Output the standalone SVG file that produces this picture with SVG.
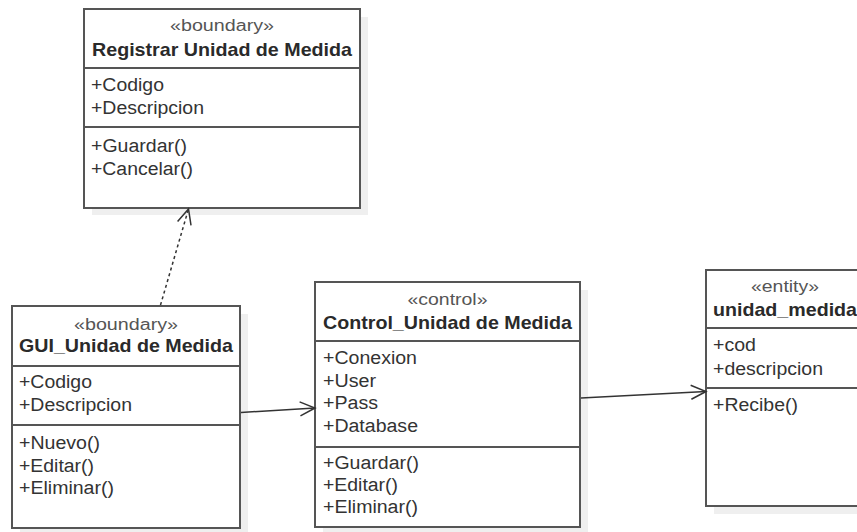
<svg xmlns="http://www.w3.org/2000/svg" width="857" height="532" viewBox="0 0 857 532">
<defs>
<style>
.shadow{fill:#efefef;stroke:none}
.box{fill:#ffffff;stroke:#555555;stroke-width:2}
.sep{stroke:#555555;stroke-width:2}
.st{font-family:"Liberation Sans",Arial,sans-serif;font-size:16px;fill:#555555;text-anchor:middle}
.nm{font-family:"Liberation Sans",Arial,sans-serif;font-size:19px;font-weight:bold;fill:#2a2a2a;text-anchor:middle}
.at{font-family:"Liberation Sans",Arial,sans-serif;font-size:18px;fill:#333333}
.conn{fill:none;stroke:#333333;stroke-width:1.5}
.dash{stroke-dasharray:3 3}
</style>
<marker id="open" markerUnits="userSpaceOnUse" markerWidth="20" markerHeight="20" refX="16" refY="8" orient="auto">
<path d="M1,1 L16,8 L1,15" fill="none" stroke="#333333" stroke-width="1.5"/>
</marker>
</defs>
<rect width="857" height="532" fill="#ffffff"/>

<g id="registrar">
<rect class="shadow" x="92" y="17" width="276" height="198"/>
<rect class="box" x="84" y="9" width="276" height="199"/>
<line class="sep" x1="84" y1="68" x2="360" y2="68"/>
<line class="sep" x1="84" y1="127" x2="360" y2="127"/>
<text class="st" x="222" y="31" textLength="104" lengthAdjust="spacingAndGlyphs">«boundary»</text>
<text class="nm" x="222" y="56" textLength="260" lengthAdjust="spacingAndGlyphs">Registrar Unidad de Medida</text>
<text class="at" x="91" y="91" textLength="73" lengthAdjust="spacingAndGlyphs">+Codigo</text>
<text class="at" x="91" y="114" textLength="113" lengthAdjust="spacingAndGlyphs">+Descripcion</text>
<text class="at" x="91" y="152" textLength="96" lengthAdjust="spacingAndGlyphs">+Guardar()</text>
<text class="at" x="91" y="175" textLength="102" lengthAdjust="spacingAndGlyphs">+Cancelar()</text>
</g>

<g id="gui">
<rect class="shadow" x="20" y="314" width="228" height="222"/>
<rect class="box" x="12" y="306" width="228" height="222"/>
<line class="sep" x1="12" y1="366" x2="240" y2="366"/>
<line class="sep" x1="12" y1="425" x2="240" y2="425"/>
<text class="st" x="126" y="330" textLength="104" lengthAdjust="spacingAndGlyphs">«boundary»</text>
<text class="nm" x="126" y="352" textLength="214" lengthAdjust="spacingAndGlyphs">GUI_Unidad de Medida</text>
<text class="at" x="19" y="388" textLength="73" lengthAdjust="spacingAndGlyphs">+Codigo</text>
<text class="at" x="19" y="411" textLength="113" lengthAdjust="spacingAndGlyphs">+Descripcion</text>
<text class="at" x="19" y="449" textLength="81" lengthAdjust="spacingAndGlyphs">+Nuevo()</text>
<text class="at" x="19" y="472" textLength="75" lengthAdjust="spacingAndGlyphs">+Editar()</text>
<text class="at" x="19" y="494" textLength="95" lengthAdjust="spacingAndGlyphs">+Eliminar()</text>
</g>

<g id="control">
<rect class="shadow" x="323" y="290" width="265" height="245"/>
<rect class="box" x="315" y="282" width="265" height="245"/>
<line class="sep" x1="315" y1="341" x2="580" y2="341"/>
<line class="sep" x1="315" y1="447" x2="580" y2="447"/>
<text class="st" x="447.5" y="305" textLength="80" lengthAdjust="spacingAndGlyphs">«control»</text>
<text class="nm" x="447.5" y="329" textLength="249" lengthAdjust="spacingAndGlyphs">Control_Unidad de Medida</text>
<text class="at" x="323" y="364" textLength="94" lengthAdjust="spacingAndGlyphs">+Conexion</text>
<text class="at" x="323" y="387" textLength="53" lengthAdjust="spacingAndGlyphs">+User</text>
<text class="at" x="323" y="409" textLength="55" lengthAdjust="spacingAndGlyphs">+Pass</text>
<text class="at" x="323" y="432" textLength="95" lengthAdjust="spacingAndGlyphs">+Database</text>
<text class="at" x="323" y="469" textLength="96" lengthAdjust="spacingAndGlyphs">+Guardar()</text>
<text class="at" x="323" y="491" textLength="75" lengthAdjust="spacingAndGlyphs">+Editar()</text>
<text class="at" x="323" y="513" textLength="95" lengthAdjust="spacingAndGlyphs">+Eliminar()</text>
</g>

<g id="entity">
<rect class="shadow" x="714" y="278" width="160" height="236"/>
<rect class="box" x="706" y="270" width="160" height="236"/>
<line class="sep" x1="706" y1="328" x2="866" y2="328"/>
<line class="sep" x1="706" y1="388" x2="866" y2="388"/>
<text class="st" x="785" y="292" textLength="68" lengthAdjust="spacingAndGlyphs">«entity»</text>
<text class="nm" x="785" y="316" textLength="144" lengthAdjust="spacingAndGlyphs">unidad_medida</text>
<text class="at" x="713" y="351" textLength="43" lengthAdjust="spacingAndGlyphs">+cod</text>
<text class="at" x="713" y="375" textLength="110" lengthAdjust="spacingAndGlyphs">+descripcion</text>
<text class="at" x="713" y="411" textLength="85" lengthAdjust="spacingAndGlyphs">+Recibe()</text>
</g>

<g id="connectors">
<line class="conn dash" x1="160.5" y1="305" x2="188.5" y2="209" marker-end="url(#open)"/>
<line class="conn" x1="241" y1="412.5" x2="315" y2="408" marker-end="url(#open)"/>
<line class="conn" x1="581" y1="398" x2="706" y2="391.5" marker-end="url(#open)"/>
</g>
</svg>
